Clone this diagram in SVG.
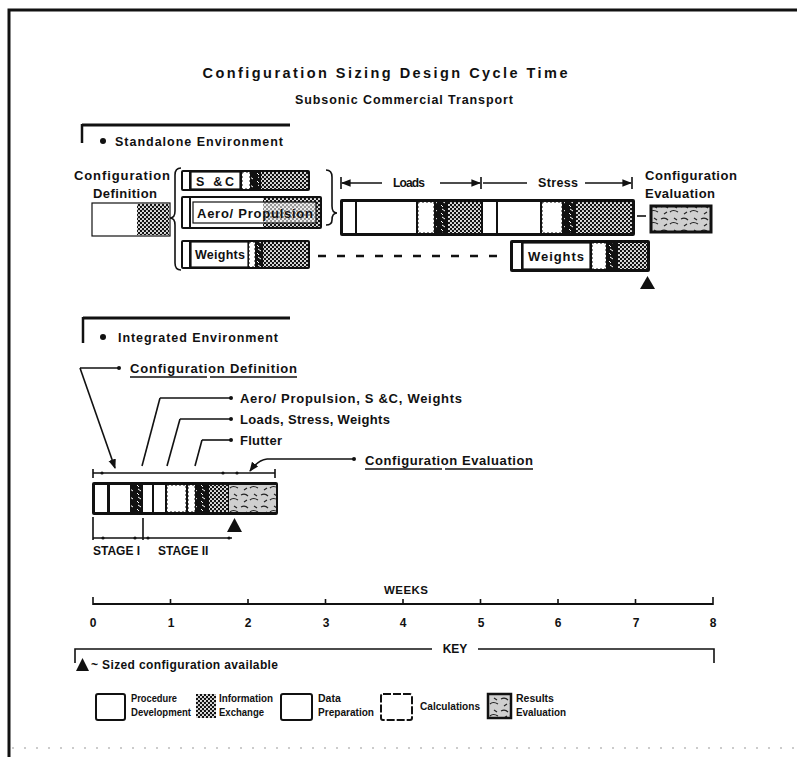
<svg xmlns="http://www.w3.org/2000/svg" width="797" height="759" viewBox="0 0 797 759">
<defs>
<style>
.t{font-family:"Liberation Sans",Arial,sans-serif;font-weight:bold;fill:#111}
.ln{stroke:#111;stroke-width:1.6;fill:none}
.thk{stroke:#111;stroke-width:3;fill:none}
.bar{fill:#111}
.w{fill:#fff}
.wd{fill:#fff;stroke:#111;stroke-width:1;stroke-dasharray:2 2}
.c{fill:url(#chk)}
.d{fill:url(#drk)}
.r{fill:url(#res)}
.lb{fill:#fff;stroke:#111;stroke-width:1.2}
</style>
<pattern id="chk" width="4" height="4" patternUnits="userSpaceOnUse"><rect width="4" height="4" fill="#111"/><circle cx="1" cy="1" r="1.1" fill="#eee"/><circle cx="3" cy="3" r="1.1" fill="#eee"/></pattern>
<pattern id="drk" width="8" height="8" patternUnits="userSpaceOnUse"><rect width="8" height="8" fill="#111"/><path d="M2,1 L5,3 M1,5 L3,7" stroke="#fff" stroke-width="1"/></pattern>
<pattern id="res" width="20" height="12" patternUnits="userSpaceOnUse"><rect width="20" height="12" fill="#cfcfcf"/><path d="M1,3 q4,-2 7,1 M10,8 q3,-3 8,0 M4,10 l3,-2 M14,2 l3,2" stroke="#222" stroke-width="1.2" fill="none"/></pattern>
<marker id="ah" viewBox="0 0 10 10" refX="9" refY="5" markerWidth="6" markerHeight="6" orient="auto-start-reverse"><path d="M0,1 L10,5 L0,9 z" fill="#111"/></marker>
</defs>
<rect width="797" height="759" fill="#fff"/>

<g id="frame">
<path d="M797,10 L9,10 L9,757" class="thk"/>
<line x1="12" y1="748" x2="797" y2="748" stroke="#999" stroke-width="1" stroke-dasharray="2 10"/>
</g>

<g id="title">
<text class="t" x="385" y="78" font-size="14.5" text-anchor="middle" textLength="365" lengthAdjust="spacing">Configuration Sizing Design Cycle Time</text>
<text class="t" x="404" y="104" font-size="12.5" text-anchor="middle" textLength="218" lengthAdjust="spacing">Subsonic Commercial Transport</text>
</g>

<g id="standalone-header">
<line x1="82" y1="125" x2="290" y2="125" class="thk"/>
<line x1="82" y1="124" x2="82" y2="143" stroke="#111" stroke-width="2.5"/>
<circle cx="103" cy="141" r="3" fill="#111"/>
<text class="t" x="115" y="146" font-size="12.5" textLength="168" lengthAdjust="spacing">Standalone Environment</text>
</g>

<g id="config-definition">
<text class="t" x="122" y="180" font-size="13" text-anchor="middle" textLength="96" lengthAdjust="spacing">Configuration</text>
<text class="t" x="125" y="198" font-size="13" text-anchor="middle" textLength="64" lengthAdjust="spacing">Definition</text>
<rect x="92" y="203" width="78" height="33" fill="#fff" stroke="#111" stroke-width="1.2"/>
<rect x="137" y="204" width="32" height="31" class="c"/>
</g>

<g id="sc-bar">
<rect x="181" y="170" width="129" height="21" class="bar" rx="2"/>
<rect x="183" y="172" width="6" height="17" class="w"/>
<rect x="191" y="172" width="49" height="17" class="lb"/>
<rect x="242" y="172" width="8" height="17" class="wd"/>
<rect x="251" y="172" width="8" height="17" class="d"/>
<rect x="261" y="172" width="47" height="17" class="c"/>
<text class="t" x="196" y="185.5" font-size="12.5" textLength="38" lengthAdjust="spacing">S &amp;C</text>
</g>

<g id="aero-bar">
<rect x="181" y="196" width="141" height="33" class="bar" rx="2"/>
<rect x="183" y="198" width="6" height="29" class="w"/>
<rect x="191" y="198" width="72" height="29" class="w"/>
<rect x="263" y="198" width="57" height="29" class="c"/>
<rect x="193" y="202" width="123" height="21" fill="#fff" fill-opacity="0.55" stroke="#111" stroke-width="1.2"/>
<text class="t" x="197" y="217.5" font-size="13" textLength="116" lengthAdjust="spacing">Aero/ Propulsion</text>
</g>

<g id="weights-bar">
<rect x="181" y="240" width="129" height="29" class="bar" rx="2"/>
<rect x="183" y="242" width="6" height="25" class="w"/>
<rect x="191" y="242" width="57" height="25" class="lb"/>
<rect x="249" y="242" width="6" height="25" class="wd"/>
<rect x="256" y="242" width="6" height="25" class="d"/>
<rect x="263" y="242" width="45" height="25" class="c"/>
<text class="t" x="195" y="259" font-size="12.5" textLength="50" lengthAdjust="spacing">Weights</text>
</g>

<g id="loads-stress-bar">
<text class="t" x="409" y="187" font-size="12" text-anchor="middle" textLength="32" lengthAdjust="spacing">Loads</text>
<text class="t" x="558" y="187" font-size="12.5" text-anchor="middle" textLength="40" lengthAdjust="spacing">Stress</text>
<rect x="340" y="199" width="295" height="37" class="bar" rx="2"/>
<rect x="343" y="202" width="12" height="31" class="w"/>
<rect x="357" y="202" width="59" height="31" class="w"/>
<rect x="418" y="202" width="16" height="31" class="wd"/>
<rect x="436" y="202" width="10" height="31" class="d"/>
<rect x="448" y="202" width="33" height="31" class="c"/>
<rect x="483" y="202" width="13" height="31" class="w"/>
<rect x="498" y="202" width="42" height="31" class="w"/>
<rect x="542" y="202" width="20" height="31" class="wd"/>
<rect x="564" y="202" width="10" height="31" class="d"/>
<rect x="576" y="202" width="56" height="31" class="c"/>
</g>

<g id="config-evaluation">
<text class="t" x="691" y="180" font-size="13" text-anchor="middle" textLength="92" lengthAdjust="spacing">Configuration</text>
<text class="t" x="680" y="198" font-size="13" text-anchor="middle" textLength="70" lengthAdjust="spacing">Evaluation</text>
<rect x="651" y="206" width="60" height="26" class="r" stroke="#111" stroke-width="3"/>
</g>

<g id="weights-bar-2">
<rect x="510" y="240" width="140" height="32" class="bar" rx="2"/>
<rect x="513" y="243" width="8" height="26" class="w"/>
<rect x="523" y="243" width="67" height="26" class="lb"/>
<rect x="592" y="243" width="14" height="26" class="wd"/>
<rect x="608" y="243" width="8" height="26" class="d"/>
<rect x="618" y="243" width="29" height="26" class="c"/>
<text class="t" x="528" y="261" font-size="13" textLength="56" lengthAdjust="spacing">Weights</text>
<path d="M640,289 L655,289 L647.5,276 Z" fill="#111"/>
</g>

<g id="integrated-header">
<line x1="83" y1="318" x2="290" y2="318" class="thk"/>
<line x1="83" y1="317" x2="83" y2="343" stroke="#111" stroke-width="2.5"/>
<circle cx="103" cy="337" r="3" fill="#111"/>
<text class="t" x="118" y="342" font-size="12.5" textLength="160" lengthAdjust="spacing">Integrated Environment</text>
</g>

<g id="integrated-labels">
<text class="t" x="130" y="373" font-size="13" textLength="167" lengthAdjust="spacing">Configuration  Definition</text>
<line x1="130" y1="377" x2="207" y2="377" class="ln" stroke-width="1"/>
<line x1="210" y1="377" x2="297" y2="377" class="ln" stroke-width="1"/>
<text class="t" x="240" y="403" font-size="13" textLength="222" lengthAdjust="spacing">Aero/ Propulsion, S &amp;C, Weights</text>
<text class="t" x="240" y="424" font-size="13" textLength="150" lengthAdjust="spacing">Loads, Stress, Weights</text>
<text class="t" x="240" y="445" font-size="13" textLength="42" lengthAdjust="spacing">Flutter</text>
<text class="t" x="365" y="465" font-size="13" textLength="168" lengthAdjust="spacing">Configuration  Evaluation</text>
<line x1="365" y1="469" x2="442" y2="469" class="ln" stroke-width="1"/>
<line x1="445" y1="469" x2="533" y2="469" class="ln" stroke-width="1"/>
</g>

<g id="integrated-bar">
<rect x="92" y="482" width="186" height="33" class="bar" rx="2"/>
<rect x="95" y="485" width="12" height="27" class="w"/>
<rect x="110" y="485" width="20" height="27" class="w"/>
<rect x="131" y="485" width="10" height="27" class="d"/>
<rect x="143" y="485" width="9" height="27" class="w"/>
<rect x="154" y="485" width="11" height="27" class="w"/>
<rect x="167" y="485" width="19" height="27" class="wd"/>
<rect x="188" y="485" width="7" height="27" class="wd"/>
<rect x="196" y="485" width="12" height="27" class="d"/>
<rect x="209" y="485" width="19" height="27" class="c"/>
<rect x="229" y="485" width="47" height="27" class="r"/>
<path d="M227,532 L242,532 L234.5,518 Z" fill="#111"/>
<text class="t" x="93" y="555" font-size="12">STAGE I</text>
<text class="t" x="158" y="555" font-size="12">STAGE II</text>
</g>

<g id="weeks-axis">
<text class="t" x="406" y="594" font-size="11.5" text-anchor="middle" textLength="44" lengthAdjust="spacing">WEEKS</text>
<line x1="93" y1="604" x2="713" y2="604" stroke="#111" stroke-width="2"/>
<path d="M93,597V605 M170.5,599V605 M248,599V605 M325.5,599V605 M403,599V605 M480.5,599V605 M558,599V605 M635.5,599V605 M713,597V605" class="ln" stroke-width="1.4"/>
<g class="t" font-size="12" text-anchor="middle">
<text x="93" y="627">0</text><text x="171" y="627">1</text><text x="248" y="627">2</text><text x="326" y="627">3</text><text x="403" y="627">4</text><text x="481" y="627">5</text><text x="558" y="627">6</text><text x="636" y="627">7</text><text x="713" y="627">8</text>
</g>
</g>

<g id="key">
<path d="M75,663 V649 H432 M478,649 H714 V663" class="ln" stroke-width="2"/>
<text class="t" x="455" y="653" font-size="12" text-anchor="middle">KEY</text>
<path d="M76,671 L89,671 L82.5,658 Z" fill="#111"/>
<text class="t" x="91" y="669" font-size="12" textLength="187" lengthAdjust="spacing">~ Sized configuration available</text>
</g>

<g id="legend-procedure">
<rect x="96" y="694" width="29" height="26" fill="#fff" stroke="#111" stroke-width="2" rx="2"/>
<text class="t" font-size="10.5" x="131" y="702" textLength="46" lengthAdjust="spacingAndGlyphs">Procedure</text>
<text class="t" font-size="10.5" x="131" y="716" textLength="60" lengthAdjust="spacingAndGlyphs">Development</text>
</g>
<g id="legend-information">
<rect x="196" y="694" width="20" height="24" class="c"/>
<text class="t" font-size="10.5" x="219" y="702" textLength="54" lengthAdjust="spacingAndGlyphs">Information</text>
<text class="t" font-size="10.5" x="219" y="716" textLength="45" lengthAdjust="spacingAndGlyphs">Exchange</text>
</g>
<g id="legend-data">
<rect x="281" y="694" width="31" height="26" fill="#fff" stroke="#111" stroke-width="2" rx="2"/>
<text class="t" font-size="10.5" x="318" y="702">Data</text>
<text class="t" font-size="10.5" x="318" y="716" textLength="56" lengthAdjust="spacingAndGlyphs">Preparation</text>
</g>
<g id="legend-calculations">
<rect x="381" y="694" width="31" height="26" fill="#fff" stroke="#111" stroke-width="2" stroke-dasharray="8 2" rx="2"/>
<text class="t" font-size="10.5" x="420" y="710" textLength="60" lengthAdjust="spacingAndGlyphs">Calculations</text>
</g>
<g id="legend-results">
<rect x="488" y="694" width="23" height="24" class="r" stroke="#111" stroke-width="2.5"/>
<text class="t" font-size="10.5" x="516" y="702">Results</text>
<text class="t" font-size="10.5" x="516" y="716" textLength="50" lengthAdjust="spacingAndGlyphs">Evaluation</text>
</g>

<g id="connectors">
<path d="M181,168 Q175,168 175,175 L175,211 Q175,218 170,218 Q175,218 175,225 L175,263 Q175,270 181,270" class="ln" stroke-width="1.5"/>
<path d="M326,170 Q332,170 332,177 L332,206 Q332,213 337,213 Q332,213 332,220 Q332,225 326,225" class="ln" stroke-width="1.5"/>
<path d="M341,177V189 M481,177V189 M632,177V189" class="ln" stroke-width="1.5"/>
<line x1="382" y1="183" x2="342" y2="183" class="ln" marker-end="url(#ah)"/>
<line x1="440" y1="183" x2="480" y2="183" class="ln" marker-end="url(#ah)"/>
<line x1="527" y1="183" x2="483" y2="183" class="ln"/>
<line x1="585" y1="183" x2="631" y2="183" class="ln" marker-end="url(#ah)"/>
<line x1="637" y1="216" x2="646" y2="216" class="ln" stroke-width="2.5"/>
<line x1="318" y1="256" x2="508" y2="256" stroke="#111" stroke-width="2.5" stroke-dasharray="8 11"/>
<line x1="80" y1="368" x2="118" y2="368" class="ln" stroke-width="2"/>
<circle cx="119" cy="368" r="2" fill="#111"/>
<line x1="80" y1="368" x2="115" y2="468" class="ln" marker-end="url(#ah)"/>
<line x1="160" y1="398" x2="230" y2="398" class="ln" stroke-width="2"/>
<circle cx="231" cy="398" r="2" fill="#111"/>
<line x1="160" y1="398" x2="142" y2="466" class="ln"/>
<line x1="180" y1="419" x2="230" y2="419" class="ln" stroke-width="2"/>
<circle cx="231" cy="419" r="2" fill="#111"/>
<line x1="180" y1="419" x2="167" y2="466" class="ln"/>
<line x1="202" y1="440" x2="230" y2="440" class="ln" stroke-width="2"/>
<circle cx="231" cy="440" r="2" fill="#111"/>
<line x1="202" y1="440" x2="195" y2="466" class="ln"/>
<line x1="267" y1="459" x2="353" y2="459" class="ln" stroke-width="2"/>
<circle cx="354" cy="459" r="2" fill="#111"/>
<path d="M267,459 Q258,460 250,471" class="ln" stroke-width="1.8" marker-end="url(#ah)"/>
<path d="M93,469V478 M275,469V478" class="ln" stroke-width="1.5"/>
<line x1="93" y1="473" x2="275" y2="473" class="ln" stroke-width="1.8"/>
<circle cx="102" cy="473" r="1.6" fill="#111"/>
<circle cx="223" cy="473" r="1.6" fill="#111"/>
<circle cx="237" cy="473" r="1.6" fill="#111"/>
<path d="M93,517V540 M143,518V540" class="ln" stroke-width="1.4"/>
<line x1="93" y1="538" x2="232" y2="538" class="ln" stroke-width="1.8"/>
<circle cx="103" cy="538" r="1.6" fill="#111"/>
<circle cx="135" cy="538" r="1.6" fill="#111"/>
<circle cx="148" cy="538" r="1.6" fill="#111"/>
<circle cx="229" cy="538" r="1.6" fill="#111"/>
</g>
</svg>
